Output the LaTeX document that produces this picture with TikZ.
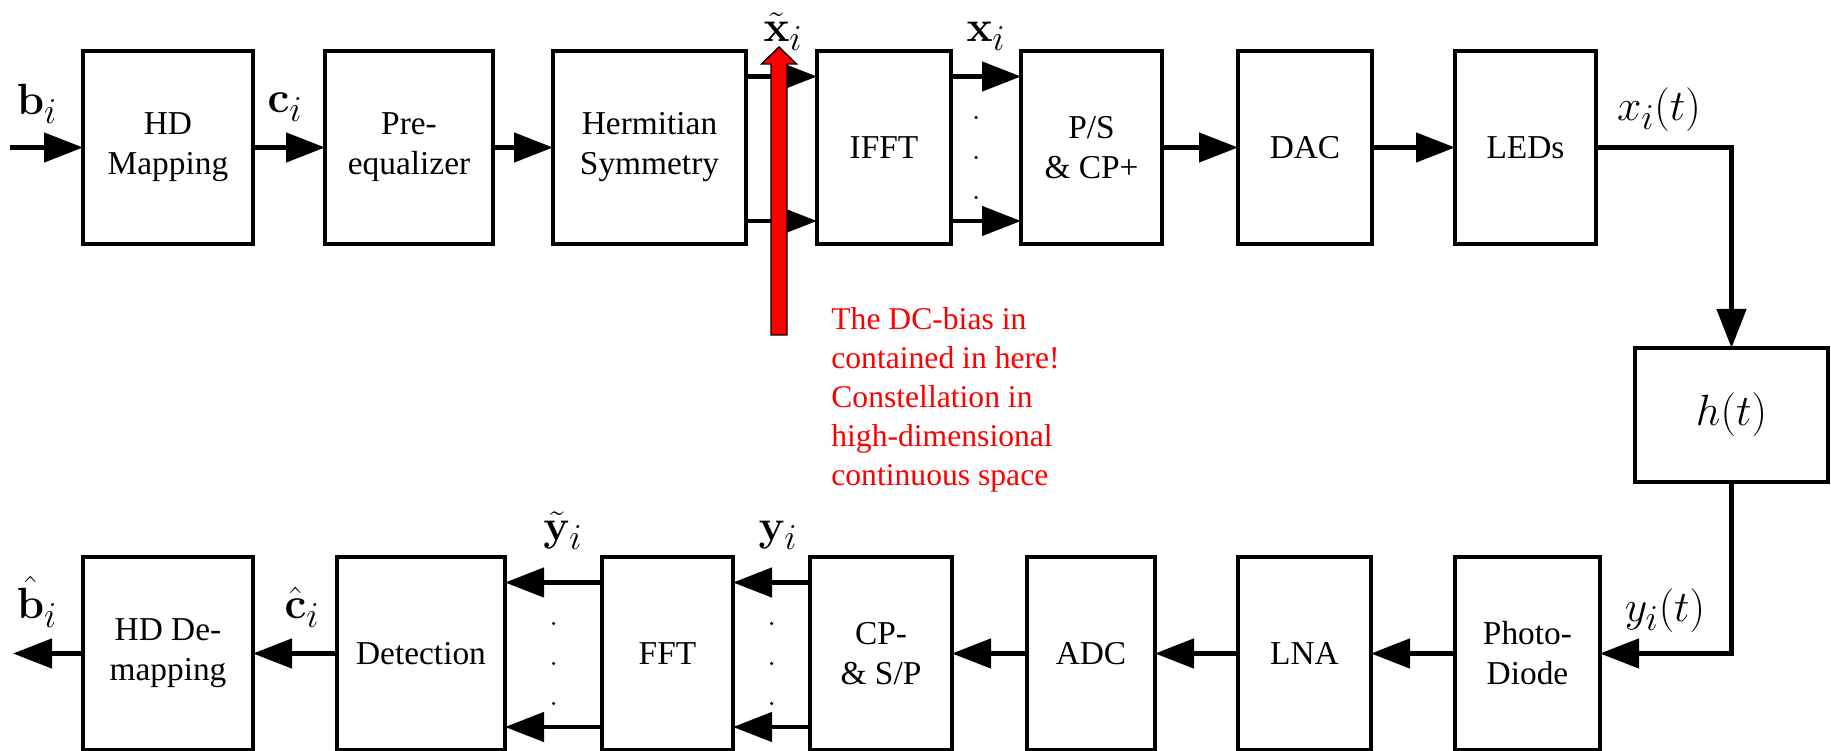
\documentclass[tikz,border=0pt]{standalone}
\usepackage[no-math]{fontspec}
\setmainfont{Liberation Serif}
\usetikzlibrary{positioning, arrows.meta, calc}

\begin{document}
\begin{tikzpicture}[
    blk/.style={draw, line width=2.6pt, outer sep=0pt, minimum width=#1, minimum height=3.86cm,
                align=center, inner sep=2pt, font=\rmfamily\fontsize{19}{22.8}\selectfont},
    sig/.style={font=\Huge, anchor=base, inner sep=0pt},
    arr/.style={-{Triangle[length=0.78cm, width=0.58cm]}, line width=2.6pt},
    note/.style={text=red, align=left, inner sep=0pt, font=\rmfamily\fontsize{18}{22.2}\selectfont},
  ]
  \useasboundingbox (0,0) rectangle (36.62,-15.02);

  % ── Transmitter chain ──
  \node[blk=3.40cm] (hdmap) at (3.36,-2.95) {HD\\Mapping};
  \node[blk=3.36cm, right=1.44cm of hdmap] (preeq) {Pre-\\equalizer};
  \node[blk=3.86cm, right=1.20cm of preeq] (herm) {Hermitian\\Symmetry};
  \node[blk=2.68cm, right=1.42cm of herm] (ifft) {IFFT};
  \node[blk=2.82cm, right=1.40cm of ifft] (ps) {P/S\\\& CP+};
  \node[blk=2.68cm, right=1.52cm of ps] (dac) {DAC};
  \node[blk=2.82cm, right=1.66cm of dac] (leds) {LEDs};
  \coordinate[left=1.46cm of hdmap] (bin);

  % ── Channel ──
  \node[blk=3.86cm, minimum height=2.68cm, font=\Huge] (chan) at (34.63,-8.30) {$h(t)$};

  % ── Receiver chain ──
  \node[blk=3.40cm, below=6.26cm of hdmap] (hddemap) {HD De-\\mapping};
  \node[blk=3.36cm, right=1.68cm of hddemap] (det) {Detection};
  \node[blk=2.62cm, right=1.94cm of det] (fft) {FFT};
  \node[blk=2.84cm, right=1.54cm of fft] (cpsp) {CP-\\\& S/P};
  \node[blk=2.56cm, right=1.50cm of cpsp] (adc) {ADC};
  \node[blk=2.66cm, right=1.66cm of adc] (lna) {LNA};
  \node[blk=2.90cm, right=1.68cm of lna] (photo) {Photo-\\Diode};
  \coordinate[left=1.40cm of hddemap] (bout);

  % ── Arrows (Tx) ──
  \draw[arr] (bin) -- (hdmap);
  \draw[arr] (hdmap) -- (preeq);
  \draw[arr] (preeq) -- (herm);
  \foreach \dy in {1.42,-1.47} {
    \draw[arr] ([yshift=\dy cm]herm.east) -- ([yshift=\dy cm]ifft.west);
    \draw[arr] ([yshift=\dy cm]ifft.east) -- ([yshift=\dy cm]ps.west);
  }
  \foreach \dy in {0.6,-0.2,-1.0}
    \fill ($(ifft.east)!0.36!(ps.west)+(0,\dy)$) circle (0.035);
  \draw[arr] (ps) -- (dac);
  \draw[arr] (dac) -- (leds);
  \draw[arr] (leds.east) -| (chan.north);

  % ── Arrows (Rx) ──
  \draw[arr] (chan.south) |- (photo.east);
  \draw[arr] (photo) -- (lna);
  \draw[arr] (lna) -- (adc);
  \draw[arr] (adc) -- (cpsp);
  \foreach \dy in {1.42,-1.47} {
    \draw[arr] ([yshift=\dy cm]cpsp.west) -- ([yshift=\dy cm]fft.east);
    \draw[arr] ([yshift=\dy cm]fft.west) -- ([yshift=\dy cm]det.east);
  }
  \foreach \dy in {0.6,-0.2,-1.0} {
    \fill ($(det.east)!0.5!(fft.west)+(0,\dy)$) circle (0.035);
    \fill ($(fft.east)!0.5!(cpsp.west)+(0,\dy)$) circle (0.035);
  }
  \draw[arr] (det) -- (hddemap);
  \draw[arr] (hddemap) -- (bout);

  % ── Signal labels ──
  \node[sig] at ($(hdmap.west)+(-0.92,0.65)$) {$\mathbf{b}_i$};
  \node[sig] at ($(preeq.west)+(-0.80,0.69)$) {$\mathbf{c}_i$};
  \node[sig] at ($(ifft.north west)+(-0.68,0.18)$) {$\tilde{\mathbf{x}}_i$};
  \node[sig] at ($(ps.north west)+(-0.70,0.18)$) {$\mathbf{x}_i$};
  \node[sig] at ($(leds.east)+(1.26,0.53)$) {$x_i(t)$};
  \node[sig] at ($(photo.east)+(1.30,0.64)$) {$y_i(t)$};
  \node[sig] at ($(hddemap.west)+(-0.92,0.70)$) {$\hat{\mathbf{b}}_i$};
  \node[sig] at ($(det.west)+(-0.70,0.70)$) {$\hat{\mathbf{c}}_i$};
  \node[sig] at ($(fft.north west)+(-0.78,0.32)$) {$\tilde{\mathbf{y}}_i$};
  \node[sig] at ($(cpsp.north west)+(-0.64,0.32)$) {$\mathbf{y}_i$};

  % ── DC-bias marker ──
  \coordinate (dctip) at (15.58,-0.94);
  \coordinate (dcbase) at (15.58,-6.70);
  \draw[fill=red, line width=0.8pt]
    ($(dcbase)+(-0.16,0)$) -- ($(dctip)+(-0.16,-0.34)$) -- ($(dctip)+(-0.35,-0.34)$)
    -- (dctip) -- ($(dctip)+(0.35,-0.34)$) -- ($(dctip)+(0.16,-0.34)$)
    -- ($(dcbase)+(0.16,0)$) -- cycle;
  \node[note, anchor=north west] (dcnote) at ($(dcbase)+(1.04,0.56)$)
    {The DC-bias in\\contained in here!\\Constellation in\\high-dimensional\\continuous space};

\end{tikzpicture}
\end{document}
